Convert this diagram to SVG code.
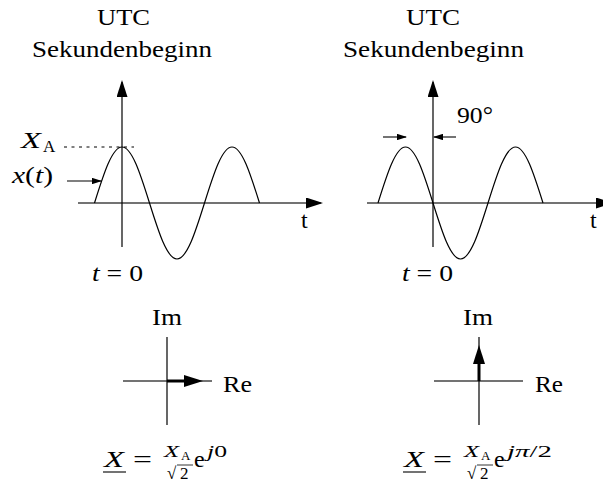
<svg xmlns="http://www.w3.org/2000/svg" width="603" height="484" viewBox="0 0 603 484">
<style>
text{font-family:"Liberation Serif","DejaVu Serif",serif;font-size:24px;fill:#000}
.it{font-style:italic}
.sm{font-size:17px}
.xs{font-size:13px}
.ax{stroke:#000;stroke-width:1.2;fill:none}
.hx{stroke:#444;stroke-width:1.3;fill:none}
.wave{stroke:#000;stroke-width:1.2;fill:none}
.thin{stroke:#000;stroke-width:1.1;fill:none}
.ph{stroke:#000;stroke-width:3;fill:none}
.dot{stroke:#000;stroke-width:1;stroke-dasharray:3 4.5;fill:none}
.bar{stroke:#000;stroke-width:0.8;fill:none}
</style>
<defs>
<marker id="big" viewBox="0 0 17 11" markerWidth="17" markerHeight="11" refX="15" refY="5.5" orient="auto" markerUnits="userSpaceOnUse"><path d="M0,0 L17,5.5 L0,11 Z" fill="#000"/></marker>
<marker id="small" viewBox="0 0 10 6.4" markerWidth="10" markerHeight="6.4" refX="9" refY="3.2" orient="auto" markerUnits="userSpaceOnUse"><path d="M0,0 L10,3.2 L0,6.4 Z" fill="#000"/></marker>
<marker id="pharr" viewBox="0 0 19 12" markerWidth="19" markerHeight="12" refX="6" refY="6" orient="auto" markerUnits="userSpaceOnUse"><path d="M0,0 L19,6 L0,12 Z" fill="#000"/></marker>
</defs>

<g id="left-plot">
<text x="97" y="25" textLength="53" lengthAdjust="spacingAndGlyphs">UTC</text>
<text x="32" y="57" textLength="180" lengthAdjust="spacingAndGlyphs">Sekundenbeginn</text>
<line class="hx" x1="78" y1="203" x2="321" y2="203" marker-end="url(#big)"/>
<line class="ax" x1="122" y1="247" x2="122" y2="82" marker-end="url(#big)"/>
<path class="wave" d="M94.5,203 C103.47,174.31 112.05,147 122,147 C131.95,147 140.53,174.31 149.5,203 C158.47,231.69 167.05,259 177,259 C186.95,259 195.53,231.69 204.5,203 C213.47,174.31 222.05,147 232,147 C241.95,147 250.53,174.31 259.5,203"/>
<line class="dot" x1="64" y1="147" x2="134" y2="147"/>
<text x="21" y="148" class="it" textLength="20" lengthAdjust="spacingAndGlyphs">X</text>
<text x="43" y="152" class="sm">A</text>
<text x="12" y="183" textLength="41" lengthAdjust="spacingAndGlyphs"><tspan class="it">x</tspan>(<tspan class="it">t</tspan>)</text>
<line class="thin" x1="67" y1="181" x2="101" y2="181" marker-end="url(#small)"/>
<text x="301" y="228">t</text>
<text x="92" y="281" textLength="51" lengthAdjust="spacingAndGlyphs"><tspan class="it">t</tspan> = 0</text>
</g>

<g id="right-plot">
<text x="406" y="25" textLength="54" lengthAdjust="spacingAndGlyphs">UTC</text>
<text x="343" y="57" textLength="181" lengthAdjust="spacingAndGlyphs">Sekundenbeginn</text>
<line class="hx" x1="367" y1="203" x2="611" y2="203" marker-end="url(#big)"/>
<line class="ax" x1="433" y1="247" x2="433" y2="82" marker-end="url(#big)"/>
<path class="wave" d="M378,203 C386.97,174.31 395.55,147 405.5,147 C415.45,147 424.03,174.31 433,203 C441.97,231.69 450.55,259 460.5,259 C470.45,259 479.03,231.69 488,203 C496.97,174.31 505.55,147 515.5,147 C525.45,147 534.03,174.31 543,203"/>
<line class="thin" x1="383" y1="137" x2="406" y2="137" marker-end="url(#small)"/>
<line class="thin" x1="456" y1="137" x2="434" y2="137" marker-end="url(#small)"/>
<text x="457" y="123" textLength="36" lengthAdjust="spacingAndGlyphs">90°</text>
<text x="590" y="228">t</text>
<text x="402" y="281" textLength="51" lengthAdjust="spacingAndGlyphs"><tspan class="it">t</tspan> = 0</text>
</g>

<g id="left-phasor">
<text x="152" y="325" textLength="30" lengthAdjust="spacingAndGlyphs">Im</text>
<line class="hx" x1="123" y1="381" x2="212" y2="381"/>
<line class="ax" x1="167" y1="337" x2="167" y2="425"/>
<line class="ph" x1="167" y1="381" x2="190" y2="381" marker-end="url(#pharr)"/>
<text x="223" y="392" textLength="29" lengthAdjust="spacingAndGlyphs">Re</text>
</g>

<g id="right-phasor">
<text x="463" y="325" textLength="30" lengthAdjust="spacingAndGlyphs">Im</text>
<line class="hx" x1="434" y1="381" x2="523" y2="381"/>
<line class="ax" x1="479" y1="337" x2="479" y2="425"/>
<line class="ph" x1="479" y1="381" x2="479" y2="358" marker-end="url(#pharr)"/>
<text x="535" y="392" textLength="28" lengthAdjust="spacingAndGlyphs">Re</text>
</g>

<g id="left-formula">
<text x="104" y="467" class="it" textLength="20" lengthAdjust="spacingAndGlyphs">X</text>
<line class="thin" x1="103" y1="472" x2="126" y2="472"/>
<text x="133" y="467" textLength="19" lengthAdjust="spacingAndGlyphs">=</text>
<text x="164" y="457" class="sm it" textLength="15" lengthAdjust="spacingAndGlyphs">X</text>
<text x="181" y="460" class="xs">A</text>
<text x="167" y="479" class="sm">√</text>
<line class="bar" x1="177" y1="465" x2="193" y2="465"/>
<text x="180" y="479" class="sm">2</text>
<text x="194" y="467">e</text>
<text x="207" y="457" class="sm" textLength="20" lengthAdjust="spacingAndGlyphs"><tspan class="it">j</tspan>0</text>
</g>

<g id="right-formula">
<text x="404" y="467" class="it" textLength="20" lengthAdjust="spacingAndGlyphs">X</text>
<line class="thin" x1="403" y1="472" x2="426" y2="472"/>
<text x="433" y="467" textLength="19" lengthAdjust="spacingAndGlyphs">=</text>
<text x="464" y="457" class="sm it" textLength="15" lengthAdjust="spacingAndGlyphs">X</text>
<text x="481" y="460" class="xs">A</text>
<text x="467" y="479" class="sm">√</text>
<line class="bar" x1="477" y1="465" x2="493" y2="465"/>
<text x="480" y="479" class="sm">2</text>
<text x="494" y="467">e</text>
<text x="507" y="457" class="sm" textLength="45" lengthAdjust="spacingAndGlyphs"><tspan class="it">jπ</tspan>/2</text>
</g>
</svg>
